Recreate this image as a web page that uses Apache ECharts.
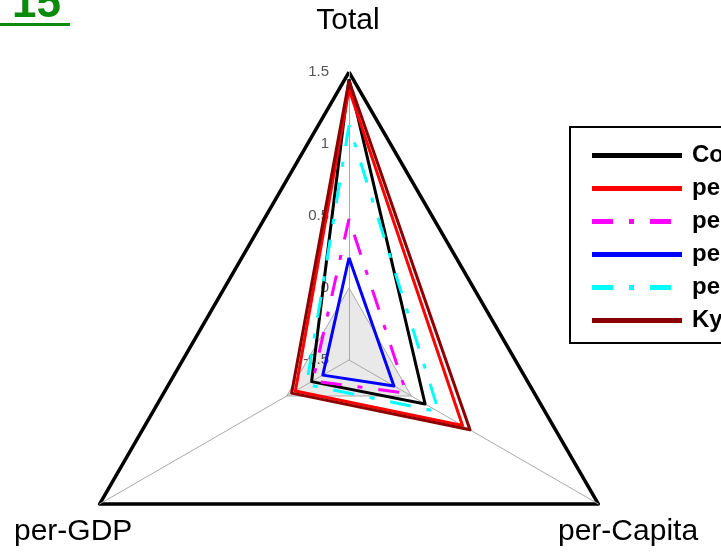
<!DOCTYPE html>
<html>
<head>
<meta charset="utf-8">
<script src="https://cdn.jsdelivr.net/npm/echarts@6/dist/echarts.min.js"></script>
<style>
  html, body { margin: 0; padding: 0; background: #fff; }
  #chart { width: 721px; height: 557px; }
</style>
</head>
<body>
<div id="chart"></div>
<script>
// Axes of the triangle radar, top then counter-clockwise
const indicatorNames = ['Total', 'per-GDP', 'per-Capita'];
const axisMin = -0.5;
const axisMax = 1.5;

// Scheme names shown in the legend
const schemeNames = [
  'Contraction & Convergence',
  'per-Capita equal',
  'per-GDP equal',
  'per-Capita convergence',
  'per-GDP convergence',
  'Kyoto Protocol'
];

// Values per scheme: [Total, per-GDP, per-Capita]
const contraction   = [1.45, -0.20, 0.11];
const perCapitaEq   = [1.38, -0.07, 0.41];
const perGdpEq      = [0.48, -0.21, -0.04];
const perCapitaConv = [0.21, -0.29, -0.14];
const perGdpConv    = [1.13, -0.16, 0.22];
const kyoto         = [1.44, -0.04, 0.47];

const schemeValues = [contraction, perCapitaEq, perGdpEq, perCapitaConv, perGdpConv, kyoto];

const colors = ['#000000', '#ff0000', '#ff00ff', '#0000ff', '#00ffff', '#8b0000'];
const dashDot = [21, 16, 5, 16];
const lineTypes = ['solid', 'solid', dashDot, 'solid', dashDot, 'solid'];

const solidIcon = 'path://M0,0h90v5h-90z';
const dashIcon = 'path://M0,0h21v5h-21z M37,0h5v5h-5z M58,0h21v5h-21z M89.9,0h0.1v0.1h-0.1z';

const center = [349, 360];
const radius = 288;

const chart = echarts.init(document.getElementById('chart'));

const option = {
  backgroundColor: '#ffffff',
  animation: false,
  radar: [
    {
      center: center,
      radius: radius,
      shape: 'polygon',
      startAngle: 90,
      splitNumber: 4,
      indicator: indicatorNames.map((n, i) => {
        const ind = { name: n, min: axisMin, max: axisMax };
        if (i === 0) {
          ind.axisLabel = {
            show: true, color: '#555', fontSize: 15,
            fontFamily: 'Liberation Sans', margin: 20
          };
        }
        return ind;
      }),
      axisName: { show: false },
      axisLine: { show: true, lineStyle: { color: '#aaaaaa', width: 1 } },
      axisTick: { show: false },
      axisLabel: { show: false },
      splitLine: {
        show: true,
        lineStyle: { color: ['transparent', '#aaaaaa', 'transparent', 'transparent', 'transparent'], width: 1 }
      },
      splitArea: {
        show: true,
        areaStyle: { color: ['#e9e9e9', 'transparent', 'transparent', 'transparent'] }
      }
    },
    {
      // outer frame of the triangle
      center: center,
      radius: radius,
      shape: 'polygon',
      startAngle: 90,
      splitNumber: 1,
      indicator: indicatorNames.map(n => ({ name: n, min: 0, max: 1 })),
      axisName: { show: false },
      axisLine: { show: false },
      axisTick: { show: false },
      axisLabel: { show: false },
      splitArea: { show: false },
      splitLine: { show: true, lineStyle: { color: ['transparent', '#000000'], width: 3.5, join: 'round' } }
    }
  ],
  legend: {
    orient: 'vertical',
    left: 570,
    top: 127,
    padding: [16, 20, 10, 22],
    borderColor: '#000',
    borderWidth: 2,
    itemWidth: 90,
    itemHeight: 5,
    itemGap: 8,
    selectedMode: false,
    textStyle: {
      color: '#000', fontSize: 24, fontWeight: 'bold',
      fontFamily: 'Liberation Sans Narrow, Liberation Sans, sans-serif',
      lineHeight: 25, padding: [0, 0, 0, 5]
    },
    data: schemeNames.map((n, i) => ({
      name: n,
      icon: lineTypes[i] === 'solid' ? solidIcon : dashIcon,
      itemStyle: { color: colors[i] }
    }))
  },
  series: schemeNames.map((n, i) => ({
    type: 'radar',
    name: n,
    radarIndex: 0,
    symbol: 'none',
    z: 3,
    itemStyle: { color: colors[i] },
    lineStyle: { color: colors[i], width: 3, type: lineTypes[i] },
    data: [{ name: n, value: schemeValues[i] }]
  })),
  graphic: [
    {
      type: 'text', style: {
        text: indicatorNames[0], x: 348, y: 36, fill: '#000',
        font: '30px "Liberation Sans", sans-serif', textAlign: 'center', textVerticalAlign: 'bottom'
      }
    },
    {
      type: 'text', style: {
        text: indicatorNames[1], x: 14, y: 547, fill: '#000',
        font: '30px "Liberation Sans", sans-serif', textAlign: 'left', textVerticalAlign: 'bottom'
      }
    },
    {
      type: 'text', style: {
        text: indicatorNames[2], x: 558, y: 547, fill: '#000',
        font: '30px "Liberation Sans", sans-serif', textAlign: 'left', textVerticalAlign: 'bottom'
      }
    },
    {
      type: 'text', style: {
        text: '15', x: 12, y: 27, fill: '#0b8a0b',
        font: 'bold 44px "Liberation Sans", sans-serif', textAlign: 'left', textVerticalAlign: 'bottom'
      }
    },
    {
      type: 'rect', shape: { x: 0, y: 23, width: 70, height: 3 }, style: { fill: '#0b8a0b' }
    }
  ]
};

chart.setOption(option);
</script>
</body>
</html>
